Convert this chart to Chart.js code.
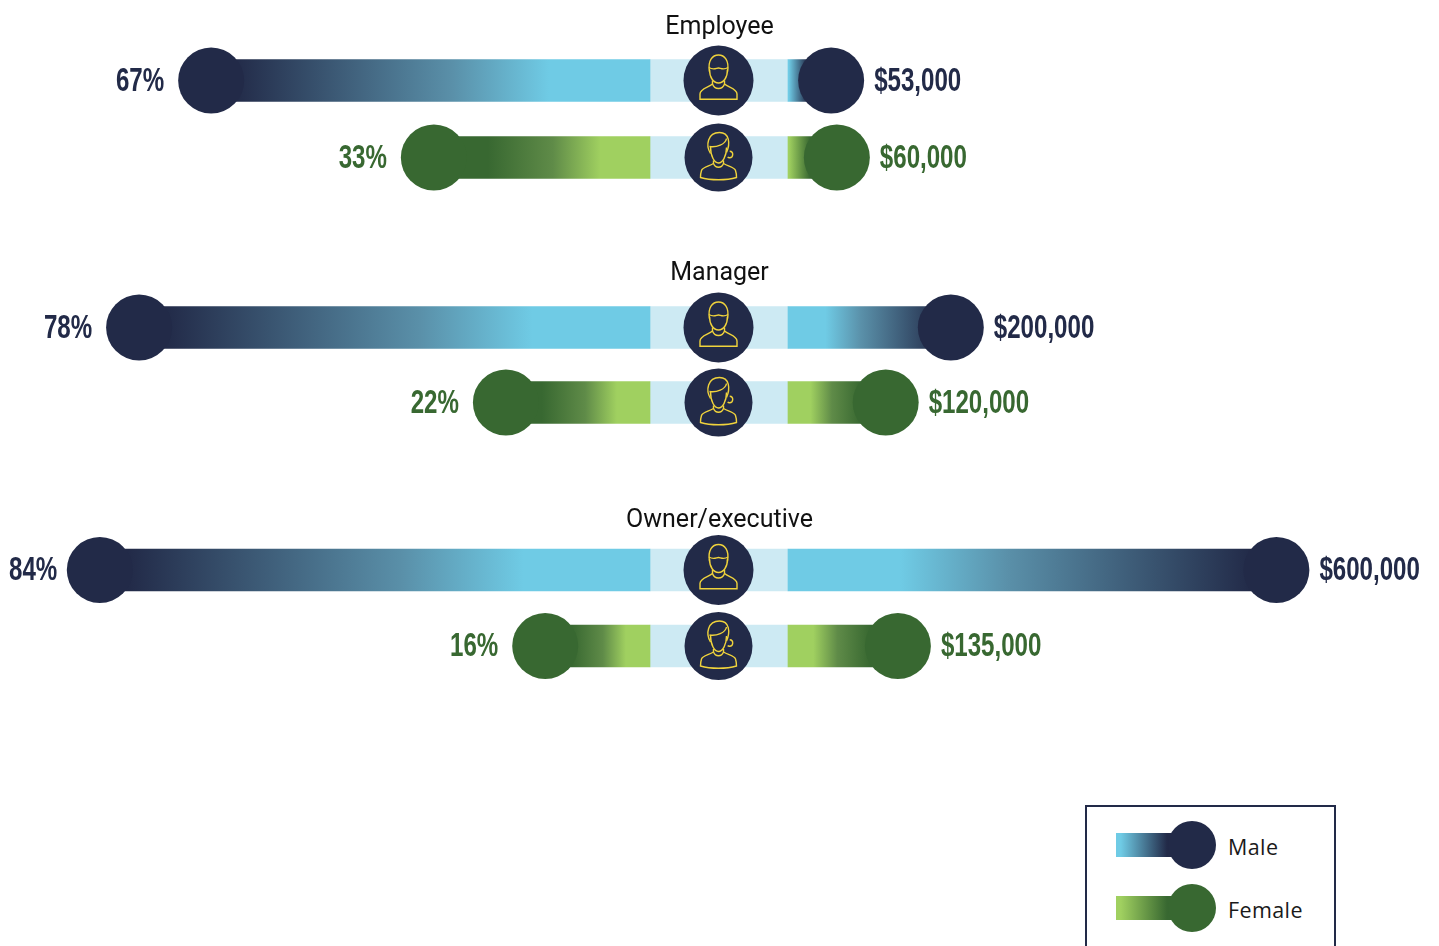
<!DOCTYPE html>
<html>
<head>
<meta charset="utf-8">
<title>Pay gap by role</title>
<script src="https://cdn.jsdelivr.net/npm/chart.js@4"></script>
<style>
    html, body { margin: 0; padding: 0; background: #fff; overflow: hidden; }
    body { width: 1439px; height: 946px; position: relative; }
    canvas { position: absolute; left: 0; }
    #leyenda { position: absolute; left: 1085px; top: 805px; width: 247px; height: 160px; border: 2px solid #222a48; font-family: "Open Sans", sans-serif; font-size: 21.5px; letter-spacing: 0.4px; color: #1a1a1a; }
    .fila { position: absolute; left: 29px; height: 48px; width: 210px; }
    .barra { position: absolute; left: 0; top: 12px; width: 60px; height: 24px; }
    .bola { position: absolute; left: 52px; top: 0; width: 48px; height: 48px; border-radius: 50%; }
    .txt { position: absolute; left: 112px; top: 11px; line-height: 30px; }
</style>
</head>
<body>
<div id="graficos"></div>
<div id="leyenda">
    <div class="fila" style="top:14px">
        <div class="barra" style="background:linear-gradient(90deg,#6fcbe5 8%,#222a48 85%)"></div>
        <div class="bola" style="background:#222a48"></div>
        <div class="txt">Male</div>
    </div>
    <div class="fila" style="top:77px">
        <div class="barra" style="background:linear-gradient(90deg,#a0d060 8%,#386831 85%)"></div>
        <div class="bola" style="background:#386831"></div>
        <div class="txt">Female</div>
    </div>
</div>
<script>
const grupos = ["Employee", "Manager", "Owner/executive"];
const generos = ["Male", "Female"];
const pctHombres = [67, 78, 84];
const pctMujeres = [33, 22, 16];
const salarioHombres = [53000, 200000, 600000];
const salarioMujeres = [60000, 120000, 135000];

const ANCHO = 1439;
const CENTRO_IZQ = 650;
const CENTRO_DER = 788;
const PX_POR_PCT = 6.55;
const PX_POR_USD = 0.000814;
const RADIO = 33;

const colores = {
    Male: { claro: "#6fcbe5", medio: "#5a90a9", oscuro: "#222a48", fin: 0.95 },
    Female: { claro: "#a0d060", medio: "#5f8b48", oscuro: "#386831", fin: 0.75 },
};
const BANDA = "#cdeaf3";
const ORO = "#f0d33c";

// posicion de cada panel en la pagina
const paneles = [
    { top: 8, alto: 188, separa: 4 },
    { top: 254, alto: 186, separa: 6 },
    { top: 501, alto: 183, separa: 1 },
];
const AIRE_TITULO = 10;

function colorBarra(ctx, ejeId) {
    const chart = ctx.chart;
    const eje = chart.scales[ejeId];
    const c = colores[generos[ctx.dataIndex]];
    if (!chart.chartArea || !eje || ctx.raw === undefined) {
        return c.claro;
    }
    const x0 = eje.getPixelForValue(0);
    const x1 = eje.getPixelForValue(ctx.raw);
    const g = chart.ctx.createLinearGradient(x0, 0, x1, 0);
    g.addColorStop(0, c.claro);
    if (Math.abs(x1 - x0) < 60) {
        // las barras muy cortas casi no tienen tramo claro
        g.addColorStop(0.02, c.claro);
        g.addColorStop(0.45, c.oscuro);
    } else {
        g.addColorStop(0.23, c.claro);
        g.addColorStop(0.45, c.medio);
        g.addColorStop(c.fin, c.oscuro);
    }
    g.addColorStop(1, c.oscuro);
    return g;
}

function iconoHombre(ctx) {
    ctx.stroke(new Path2D("M-9,-9 C-11,-20 -6,-25.5 0,-25.5 C6,-25.5 11,-20 9,-9"));
    ctx.stroke(new Path2D("M-9.5,-13 C-5,-10 -2,-12.5 0,-12.5 C2,-12.5 5,-10 9.5,-13"));
    ctx.stroke(new Path2D("M-9,-11 C-9,-3 -5,2.5 0,2.5 C5,2.5 9,-3 9,-11"));
    ctx.stroke(new Path2D("M-6,0 L-6,3.5 C-4,9.5 4,9.5 6,3.5 L6,0"));
    ctx.stroke(new Path2D("M-6,3.5 C-10,7 -18.5,8 -18.5,13.5 L-18.5,18.7 L18.5,18.7 L18.5,13.5 C18.5,8 10,7 6,3.5"));
}

function iconoMujer(ctx) {
    ctx.stroke(new Path2D("M-8,-4 C-13,-12 -11,-25 1,-25 C11,-25 12,-14 8,-5"));
    ctx.stroke(new Path2D("M-9,-11 C-2,-10 7,-13 8,-19"));
    ctx.stroke(new Path2D("M-8,-11 C-8,-1 -4,5.5 0,5.5 C4,5.5 8,-1 8,-10"));
    ctx.stroke(new Path2D("M-5,3 L-5,6 C-3,11 3,11 5,6 L5,3"));
    ctx.stroke(new Path2D("M-5,6 C-10,9 -16,10 -17,13 C-18,16 -18,18 -18,20 C-8,23 8,23 18,20 C18,18 18,16 17,13 C16,10 10,9 5,6"));
    ctx.beginPath();
    ctx.arc(11, -3, 3.2, -1.5, 2.2);
    ctx.stroke();
}

const pluginDetalles = {
    id: "detalles",
    afterDatasetsDraw(chart, args, opts) {
        const ctx = chart.ctx;
        const yEje = chart.scales.y;
        const midX = (CENTRO_IZQ + CENTRO_DER) / 2 - 0.5;

        // circulos centrales con icono
        generos.forEach((g, i) => {
            const cy = yEje.getPixelForValue(i);
            ctx.save();
            ctx.fillStyle = colores.Male.oscuro;
            ctx.beginPath();
            ctx.arc(midX, cy, i === 0 ? 35 : 34, 0, Math.PI * 2);
            ctx.fill();
            ctx.translate(midX, cy);
            ctx.strokeStyle = ORO;
            ctx.lineWidth = 1.4;
            if (i === 0) iconoHombre(ctx);
            else iconoMujer(ctx);
            ctx.restore();
        });

        // etiquetas de valor
        chart.data.datasets.forEach((ds, n) => {
            if (!ds.etiqueta) return;
            chart.getDatasetMeta(n).data.forEach((el, i) => {
                const texto = ds.etiqueta(ds.data[i].x);
                ctx.save();
                ctx.font = "bold 33px 'Liberation Sans'";
                ctx.fillStyle = colores[generos[i]].oscuro;
                ctx.textBaseline = "middle";
                const ancho = ctx.measureText(texto).width * 0.73;
                let x;
                if (ds.lado === "izq") {
                    x = Math.max(el.x - RADIO - 14 - ancho, 9);
                } else {
                    x = el.x + RADIO + 10;
                }
                ctx.translate(x, el.y + 1);
                ctx.scale(0.73, 1);
                ctx.fillText(texto, 0, 0);
                ctx.restore();
            });
        });
    },
};

function dibujarPanel(i) {
    const p = paneles[i];
    const canvas = document.createElement("canvas");
    canvas.width = ANCHO;
    canvas.height = p.alto;
    canvas.style.top = p.top + "px";
    document.getElementById("graficos").appendChild(canvas);

    const pct = [pctHombres[i], pctMujeres[i]];
    const usd = [salarioHombres[i], salarioMujeres[i]];
    const anchoBanda = (CENTRO_DER - CENTRO_IZQ) / PX_POR_PCT;

    new Chart(canvas.getContext("2d"), {
        data: {
            labels: generos,
            datasets: [
                {
                    type: "scatter",
                    xAxisID: "xPct",
                    yAxisID: "y",
                    data: pct.map((v, n) => ({ x: v, y: generos[n] })),
                    pointRadius: RADIO,
                    pointBorderWidth: 0,
                    pointBackgroundColor: generos.map((g) => colores[g].oscuro),
                    clip: false,
                    order: 1,
                    etiqueta: (v) => v + "%",
                    lado: "izq",
                },
                {
                    type: "scatter",
                    xAxisID: "xUsd",
                    yAxisID: "y",
                    data: usd.map((v, n) => ({ x: v, y: generos[n] })),
                    pointRadius: RADIO,
                    pointBorderWidth: 0,
                    pointBackgroundColor: generos.map((g) => colores[g].oscuro),
                    clip: false,
                    order: 1,
                    etiqueta: (v) => "$" + v.toLocaleString("en-US"),
                    lado: "der",
                },
                {
                    type: "bar",
                    xAxisID: "xPct",
                    yAxisID: "y",
                    data: pct,
                    backgroundColor: (ctx) => colorBarra(ctx, "xPct"),
                    order: 2,
                },
                {
                    type: "bar",
                    xAxisID: "xUsd",
                    yAxisID: "y",
                    data: usd,
                    backgroundColor: (ctx) => colorBarra(ctx, "xUsd"),
                    order: 2,
                },
                {
                    type: "bar",
                    xAxisID: "xPct",
                    yAxisID: "y",
                    data: generos.map(() => [0, -anchoBanda]),
                    backgroundColor: BANDA,
                    order: 3,
                },
            ],
        },
        options: {
            indexAxis: "y",
            responsive: false,
            animation: false,
            events: [],
            layout: { padding: 0, autoPadding: false },
            datasets: { bar: { grouped: false, barThickness: 42 } },
            scales: {
                y: { type: "category", axis: "y", labels: generos, offset: true, display: false },
                xPct: {
                    type: "linear",
                    axis: "x",
                    display: false,
                    offset: false,
                    reverse: true,
                    min: (CENTRO_IZQ - ANCHO) / PX_POR_PCT,
                    max: CENTRO_IZQ / PX_POR_PCT,
                },
                xUsd: {
                    type: "linear",
                    axis: "x",
                    display: false,
                    offset: false,
                    min: -CENTRO_DER / PX_POR_USD,
                    max: (ANCHO - CENTRO_DER) / PX_POR_USD,
                },
            },
            plugins: {
                legend: { display: false },
                tooltip: { enabled: false },
                title: {
                    display: true,
                    text: grupos[i],
                    color: "#111",
                    font: { family: "Roboto", size: 25, weight: "normal", lineHeight: 0.8 },
                    padding: { top: AIRE_TITULO, bottom: p.separa },
                },
            },
        },
        plugins: [pluginDetalles],
    });
}

grupos.forEach((g, i) => dibujarPanel(i));
</script>
</body>
</html>
